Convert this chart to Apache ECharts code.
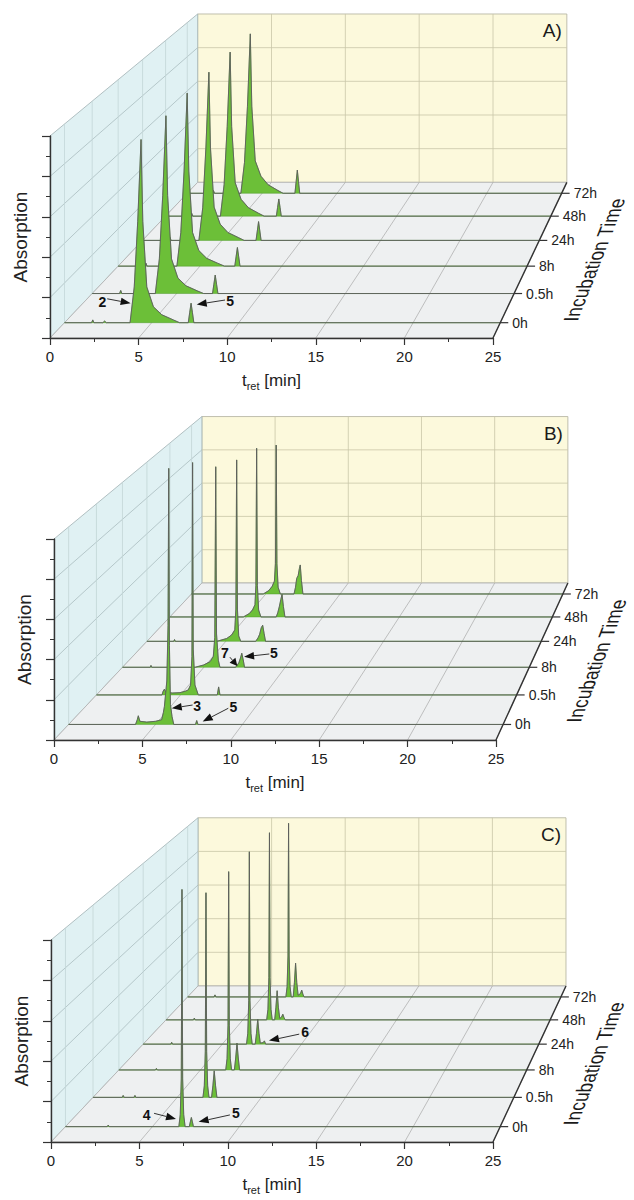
<!DOCTYPE html>
<html><head><meta charset="utf-8">
<script src="https://cdn.jsdelivr.net/npm/echarts@6/dist/echarts.min.js"></script>
<style>html,body{margin:0;padding:0;background:#fff}#c{width:634px;height:1200px}</style>
</head><body><div id="c"></div>
<script>
// ---------------- data ----------------
const tretTicks = [0, 5, 10, 15, 20, 25];
const absTicks = [0, 1, 2, 3, 4, 5];
const incubationTimes = ['0h', '0.5h', '8h', '24h', '48h', '72h'];
const panelLabels = ['A)', 'B)', 'C)'];

// Panel A traces [t_ret, absorption]
const A_0h = [[0,0],[1.55,0],[1.62,0.07],[1.69,0],[2.2,0],[2.3,0.04],[2.4,0],[3.76,0],[4.0,0.9],[4.2,2.55],[4.39,4.61],[4.49,2.55],[4.72,0.9],[5.1,0.4],[5.58,0.2],[6.24,0.07],[6.6,0],[7.1,0],[7.18,0.25],[7.26,0.49],[7.34,0.25],[7.42,0],[25,0]];
const A_05h = [[0,0],[1.62,0],[1.69,0.08],[1.76,0],[3.74,0],[3.98,0.9],[4.18,2.55],[4.37,4.62],[4.47,2.55],[4.7,0.9],[5.08,0.4],[5.56,0.2],[6.22,0.07],[6.6,0],[7.13,0],[7.21,0.24],[7.29,0.48],[7.37,0.24],[7.45,0],[25,0]];
const A_8h = [[0,0],[1.63,0],[1.7,0.08],[1.77,0],[3.59,0],[3.83,0.9],[4.03,2.55],[4.22,4.64],[4.32,2.55],[4.55,0.9],[4.93,0.42],[5.41,0.21],[6.07,0.08],[6.5,0],[7.13,0],[7.21,0.25],[7.29,0.5],[7.37,0.25],[7.45,0],[25,0]];
const A_24h = [[0,0],[1.66,0],[1.73,0.08],[1.8,0],[3.55,0],[3.79,0.9],[3.99,2.55],[4.18,4.65],[4.28,2.55],[4.51,0.92],[4.89,0.45],[5.37,0.22],[6.03,0.08],[6.4,0],[7.15,0],[7.23,0.26],[7.31,0.52],[7.39,0.26],[7.47,0],[25,0]];
const A_48h = [[0,0],[1.63,0],[1.7,0.08],[1.77,0],[3.56,0],[3.8,0.9],[4.0,2.55],[4.19,4.67],[4.29,2.55],[4.52,0.95],[4.9,0.48],[5.38,0.24],[6.04,0.08],[6.4,0],[7.19,0],[7.27,0.25],[7.35,0.49],[7.43,0.25],[7.51,0],[25,0]];
const A_72h = [[0,0],[1.68,0],[1.75,0.08],[1.82,0],[3.58,0],[3.82,0.9],[4.02,2.55],[4.21,4.67],[4.31,2.55],[4.54,0.95],[4.92,0.5],[5.4,0.25],[6.06,0.08],[6.4,0],[7.19,0],[7.27,0.34],[7.35,0.68],[7.43,0.34],[7.51,0],[25,0]];

// Panel B traces
const B_0h = [[0,0],[3.85,0],[3.95,0.12],[4.01,0.22],[4.1,0.08],[4.5,0.06],[5.0,0.08],[5.35,0.12],[5.45,0.3],[5.51,0.45],[5.65,1.1],[5.72,2.5],[5.76,6.48],[5.8,2.0],[5.86,0.5],[5.95,0.2],[6.05,0],[7.3,0],[7.37,0.1],[7.44,0],[25,0]];
const B_05h = [[0,0],[3.9,0],[3.97,0.1],[4.04,0.15],[4.12,0.08],[4.5,0.05],[4.97,0.06],[5.3,0.1],[5.46,0.13],[5.6,0.26],[5.68,1.0],[5.72,6.08],[5.76,1.2],[5.86,0.26],[6.06,0],[7.19,0],[7.27,0.21],[7.35,0],[25,0]];
const B_8h = [[0,0],[1.7,0],[1.75,0.05],[1.8,0],[4.46,0],[4.97,0.06],[5.38,0.15],[5.58,0.29],[5.67,0.8],[5.73,5.42],[5.78,0.9],[5.89,0.19],[5.99,0],[6.95,0],[7.05,0.06],[7.15,0.12],[7.25,0.25],[7.33,0.38],[7.42,0.2],[7.5,0],[25,0]];
const B_24h = [[0,0],[1.7,0],[1.75,0.05],[1.8,0],[4.43,0],[5.06,0.08],[5.38,0.18],[5.57,0.32],[5.64,0.9],[5.69,5.06],[5.74,0.9],[5.82,0.15],[5.95,0],[6.9,0],[7.05,0.1],[7.15,0.2],[7.25,0.38],[7.34,0.45],[7.43,0.22],[7.52,0],[25,0]];
const B_48h = [[0,0],[4.8,0],[5.2,0.1],[5.4,0.2],[5.56,0.35],[5.62,0.9],[5.67,4.85],[5.72,0.9],[5.8,0.2],[5.95,0],[6.95,0],[7.05,0.12],[7.15,0.29],[7.25,0.5],[7.33,0.65],[7.42,0.3],[7.52,0],[25,0]];
const B_72h = [[0,0],[4.83,0],[5.2,0.1],[5.42,0.22],[5.58,0.38],[5.65,0.9],[5.7,4.41],[5.75,0.9],[5.83,0.2],[5.98,0],[6.9,0],[7.0,0.2],[7.08,0.46],[7.18,0.55],[7.26,0.75],[7.32,0.86],[7.4,0.4],[7.5,0],[25,0]];

// Panel C traces
const C_0h = [[0,0],[2.4,0],[2.46,0.04],[2.52,0],[6.52,0],[6.6,0.3],[6.66,1.2],[6.7,5.97],[6.74,1.2],[6.8,0.3],[6.88,0],[7.12,0],[7.18,0.12],[7.24,0.23],[7.3,0.12],[7.36,0],[25,0]];
const C_05h = [[0,0],[1.73,0],[1.79,0.05],[1.85,0],[2.43,0],[2.49,0.05],[2.55,0],[6.53,0],[6.61,0.3],[6.67,1.2],[6.71,5.32],[6.75,1.2],[6.81,0.3],[6.89,0],[7.04,0],[7.12,0.3],[7.2,0.69],[7.28,0.3],[7.36,0],[25,0]];
const C_8h = [[0,0],[2.24,0],[2.3,0.04],[2.36,0],[6.55,0],[6.63,0.3],[6.69,1.2],[6.73,5.32],[6.77,1.2],[6.83,0.3],[6.91,0],[7.08,0],[7.16,0.32],[7.24,0.72],[7.32,0.32],[7.4,0],[25,0]];
const C_24h = [[0,0],[1.74,0],[1.8,0.05],[1.86,0],[6.53,0],[6.61,0.3],[6.67,1.2],[6.71,5.32],[6.75,1.2],[6.81,0.3],[6.89,0],[7.08,0],[7.16,0.3],[7.24,0.69],[7.32,0.3],[7.4,0.03],[7.58,0.04],[7.66,0.09],[7.74,0],[25,0]];
const C_48h = [[0,0],[1.78,0],[1.84,0.05],[1.9,0],[6.55,0],[6.63,0.3],[6.69,1.2],[6.73,5.33],[6.77,1.2],[6.83,0.3],[6.91,0],[7.07,0],[7.15,0.36],[7.23,0.83],[7.31,0.36],[7.4,0.04],[7.52,0.08],[7.6,0.16],[7.68,0.06],[7.76,0],[25,0]];
const C_72h = [[0,0],[1.77,0],[1.83,0.06],[1.89,0],[6.58,0],[6.66,0.3],[6.72,1.2],[6.76,5.09],[6.8,1.2],[6.86,0.3],[6.94,0],[7.07,0],[7.15,0.42],[7.23,0.99],[7.31,0.42],[7.4,0.05],[7.56,0.1],[7.64,0.2],[7.72,0.08],[7.8,0],[25,0]];

const tracesA = [A_0h, A_05h, A_8h, A_24h, A_48h, A_72h];
const tracesB = [B_0h, B_05h, B_8h, B_24h, B_48h, B_72h];
const tracesC = [C_0h, C_05h, C_8h, C_24h, C_48h, C_72h];

// peak annotations: label, label point, arrow tail, arrow tip (front-plane data coords)
const notesA = [
  {label:'2', at:[2.95,0.90], from:[3.23,0.97], to:[4.55,0.86]},
  {label:'5', at:[10.16,0.92], from:[9.88,0.94], to:[8.28,0.83]}
];
const notesB = [
  {label:'3', at:[8.1,0.85], from:[7.84,0.87], to:[6.66,0.79]},
  {label:'5', at:[10.14,0.83], from:[9.86,0.79], to:[8.41,0.46]},
  {label:'7', at:[9.67,2.17], from:[9.95,2.06], to:[10.37,1.84]},
  {label:'5', at:[12.44,2.17], from:[12.18,2.14], to:[10.75,2.07]}
];
const notesC = [
  {label:'4', at:[5.41,0.67], from:[5.83,0.71], to:[7.07,0.57]},
  {label:'5', at:[10.46,0.71], from:[10.12,0.67], to:[8.35,0.50]},
  {label:'6', at:[14.37,2.73], from:[14.04,2.67], to:[12.33,2.51]}
];

// ---------------- layout / style ----------------
const FONT = 'Liberation Sans, Arial, sans-serif';
const layouts = [
  {grid:{left:50, top:136, width:443, height:202}, vp:[50.0, 23.12], c:0.200, traces:tracesA, notes:notesA},
  {grid:{left:54, top:539, width:442, height:201}, vp:[48.64, 22.71], c:0.2077, traces:tracesB, notes:notesB},
  {grid:{left:51, top:940, width:442, height:202}, vp:[49.66, 23.07], c:0.2011, traces:tracesC, notes:notesC}
];
const skewByName = {};

const xMin = tretTicks[0], xMax = tretTicks[tretTicks.length-1];
const yMin = absTicks[0], yMax = absTicks[absTicks.length-1];
const depthOf = i => (i + 0.5) / incubationTimes.length;

function makeProj(api, L){
  const v = api.coord(L.vp);
  return function(t, a, z){
    const p = api.coord([t, a]);
    const s = 1 / (1 + L.c * z);
    return [v[0] + (p[0]-v[0]) * s, v[1] + (p[1]-v[1]) * s];
  };
}
function seg(a, b, stroke, w){
  return {type:'line', shape:{x1:a[0], y1:a[1], x2:b[0], y2:b[1]}, style:{stroke:stroke, lineWidth:w, fill:null}};
}
function poly(pts, fill, stroke, w){
  return {type:'polygon', shape:{points:pts}, style:{fill:fill, stroke:stroke, lineWidth:w||0.8}};
}

function renderWalls(L){
  return function(params, api){
    const P = makeProj(api, L);
    const ch = [];
    ch.push(poly([P(xMin,yMin,1),P(xMax,yMin,1),P(xMax,yMax,1),P(xMin,yMax,1)], '#fcf9dc', '#b9b8a6', 0.9));
    ch.push(poly([P(xMin,yMin,0),P(xMin,yMin,1),P(xMin,yMax,1),P(xMin,yMax,0)], '#e0f1f3', '#a9b9bb', 0.9));
    ch.push(poly([P(xMin,yMin,0),P(xMax,yMin,0),P(xMax,yMin,1),P(xMin,yMin,1)], '#eef0f1', '#b3b3b3', 0.9));
    tretTicks.slice(1,-1).forEach(t => ch.push(seg(P(t,yMin,1), P(t,yMax,1), '#c9c6a8', 0.8)));
    absTicks.slice(1,-1).forEach(a => ch.push(seg(P(xMin,a,1), P(xMax,a,1), '#c9c6a8', 0.8)));
    absTicks.slice(1,-1).forEach(a => ch.push(seg(P(xMin,a,0), P(xMin,a,1), '#a9bcbf', 0.8)));
    incubationTimes.forEach((_, i) => ch.push(seg(P(xMin,yMin,depthOf(i)), P(xMin,yMax,depthOf(i)), '#c3d5d7', 0.8)));
    tretTicks.slice(1,-1).forEach(t => ch.push(seg(P(t,yMin,0), P(t,yMin,1), '#a8a8a8', 0.7)));
    return {type:'group', children:ch};
  };
}

function renderRows(L){
  return function(params, api){
    const i = api.value(0);
    const P = makeProj(api, L);
    const z = depthOf(i);
    const pts = L.traces[i].map(d => P(d[0], d[1], z));
    return {type:'group', children:[
      {type:'polygon', shape:{points:pts}, style:{fill:'#6cbf38', stroke:'#4f9a2c', lineWidth:0.5}},
      {type:'polyline', shape:{points:pts}, style:{fill:null, stroke:'#5e5e5e', lineWidth:0.9}}
    ]};
  };
}

function renderFrame(L, k){
  return function(params, api){
    const P = makeProj(api, L);
    const ch = [];
    const e0 = P(xMax, yMin, 0), e1 = P(xMax, yMin, 1);
    ch.push(seg(e0, e1, '#333', 1.4));
    incubationTimes.forEach((lab, i) => {
      const p = P(xMax, yMin, depthOf(i));
      ch.push(seg(p, [p[0]+8, p[1]], '#333', 1.2));
      ch.push({type:'text', x:p[0]+12, y:p[1], style:{text:lab, fontSize:14, fontFamily:FONT, fill:'#222', align:'left', verticalAlign:'middle'}});
    });
    const m = P(xMax, yMin, 0.5);
    const r = (e1[0]-e0[0]) / (e0[1]-e1[1]);
    const sx = 0.83;
    const skew = -Math.atan(r * sx);
    const nm = 'incub' + k;
    skewByName[nm] = skew;
    ch.push({type:'text', name:nm, x:m[0]+61, y:m[1]+7, rotation:Math.PI/2, scaleX:sx, skewY:skew,
      style:{text:'Incubation Time', fontSize:21, fontFamily:FONT, fill:'#1a1a1a', align:'center', verticalAlign:'middle'}});
    const c = P(xMax, yMax, 1);
    ch.push({type:'text', x:c[0]-5, y:c[1]+17, style:{text:panelLabels[k], fontSize:19, fontFamily:FONT, fill:'#1a1a1a', align:'right', verticalAlign:'middle'}});
    return {type:'group', children:ch};
  };
}

function arrowEls(S, T){
  const dx = T[0]-S[0], dy = T[1]-S[1], len = Math.hypot(dx, dy) || 1;
  const ux = dx/len, uy = dy/len, nx = -uy, ny = ux;
  const hl = Math.min(10, len*0.65), hw = 3.8;
  const B = [T[0]-ux*hl, T[1]-uy*hl];
  return [
    seg(S, B, '#333', 1),
    {type:'polygon', shape:{points:[T, [B[0]+nx*hw, B[1]+ny*hw], [B[0]-nx*hw, B[1]-ny*hw]]}, style:{fill:'#111'}}
  ];
}
function renderNotes(L){
  return function(params, api){
    const n = L.notes[api.value(0)];
    const ch = arrowEls(api.coord(n.from), api.coord(n.to));
    const p = api.coord(n.at);
    ch.push({type:'text', x:p[0], y:p[1], style:{text:n.label, fontSize:14, fontWeight:'bold', fontFamily:FONT, fill:'#111', align:'center', verticalAlign:'middle'}});
    return {type:'group', children:ch};
  };
}

const grids = layouts.map(L => Object.assign({outerBoundsMode:'none', containLabel:false}, L.grid));
const xAxes = layouts.map((L, k) => ({
  gridIndex:k, type:'value', min:xMin, max:xMax, interval:tretTicks[1]-tretTicks[0], z:6,
  axisLine:{show:true, onZero:false, lineStyle:{color:'#333', width:1.4}},
  axisTick:{show:true, length:7, lineStyle:{color:'#333', width:1.2}},
  minorTick:{show:true, splitNumber:2, length:4, lineStyle:{color:'#333', width:1}},
  splitLine:{show:false}, minorSplitLine:{show:false},
  axisLabel:{show:true, margin:11, fontSize:15, color:'#222', fontFamily:FONT},
  name:'{t|t}{s|ret}{t| [min]}', nameLocation:'middle', nameGap:31,
  nameTextStyle:{rich:{
    t:{fontSize:17, lineHeight:22, fontFamily:FONT, color:'#222'},
    s:{fontSize:11, lineHeight:12, verticalAlign:'bottom', fontFamily:FONT, color:'#222'}
  }}
}));
const yAxes = layouts.map((L, k) => ({
  gridIndex:k, type:'value', min:yMin, max:yMax, interval:absTicks[1]-absTicks[0], z:6,
  axisLine:{show:true, onZero:false, lineStyle:{color:'#333', width:1.4}},
  axisTick:{show:true, length:8, lineStyle:{color:'#333', width:1.2}},
  minorTick:{show:true, splitNumber:2, length:4, lineStyle:{color:'#333', width:1}},
  splitLine:{show:false}, minorSplitLine:{show:false},
  axisLabel:{show:false},
  name:'Absorption', nameLocation:'middle', nameGap:20, nameRotate:90,
  nameTextStyle:{fontSize:19, color:'#222', fontFamily:FONT}
}));

const series = [];
layouts.forEach((L, k) => {
  series.push({type:'custom', xAxisIndex:k, yAxisIndex:k, z:1, silent:true, clip:false,
    data:[[0]], renderItem:renderWalls(L)});
  series.push({type:'custom', xAxisIndex:k, yAxisIndex:k, z:3, silent:true, clip:false,
    data:incubationTimes.map((_, i) => [incubationTimes.length-1-i]), renderItem:renderRows(L)});
  series.push({type:'custom', xAxisIndex:k, yAxisIndex:k, z:5, silent:true, clip:false,
    data:[[0]], renderItem:renderFrame(L, k)});
  series.push({type:'custom', xAxisIndex:k, yAxisIndex:k, z:7, silent:true, clip:false,
    data:L.notes.map((_, i) => [i]), renderItem:renderNotes(L)});
});

const chart = echarts.init(document.getElementById('c'), null, {renderer:'svg', width:634, height:1200});
chart.setOption({
  animation:false,
  backgroundColor:'#ffffff',
  textStyle:{fontFamily:FONT},
  grid:grids, xAxis:xAxes, yAxis:yAxes, series:series
});

(function applySkew(){
  const zr = chart.getZr();
  const visit = el => {
    if (el.name && skewByName[el.name] !== undefined) {
      el.skewY = skewByName[el.name];
      el.markRedraw && el.markRedraw();
    }
    if (el.isGroup && el.eachChild) el.eachChild(visit);
  };
  zr.storage.getRoots().forEach(visit);
  zr.refreshImmediately && zr.refreshImmediately();
})();
</script>
</body></html>
